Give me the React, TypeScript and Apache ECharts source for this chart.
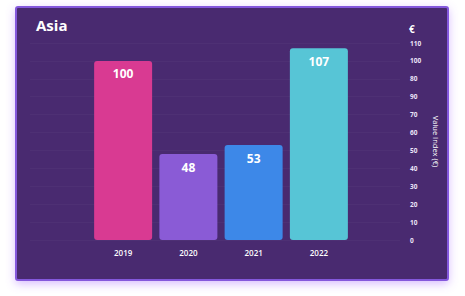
import React, { useEffect, useRef } from "react";
import * as echarts from "echarts";

const categories = ["2019", "2020", "2021", "2022"];
const values = [100, 48, 53, 107];
const barColors = ["#d93a92", "#8a5bd6", "#3d88e8", "#57c5d6"];
const yTickLabels: Record<number, string> = {
  0: "0", 10: "10", 20: "20", 30: "30", 40: "40", 50: "50", 60: "60",
  70: "70", 80: "90", 90: "80", 100: "100", 110: "110",
};
const title = "Asia";
const axisTitle = "Value Index (€)";
const unit = "€";

const FONT = "'Open Sans', Lato, sans-serif";

export default function App() {
  const ref = useRef<HTMLDivElement>(null);
  useEffect(() => {
    if (!ref.current) return;
    const chart = echarts.init(ref.current, null, { renderer: "svg" });
    chart.setOption({
      animation: false,
      backgroundColor: "#ffffff",
      graphic: [
        {
          type: "rect",
          z: -10,
          shape: { x: 16, y: 7, width: 432, height: 273, r: 2 },
          style: {
            fill: "#4a2a70",
            stroke: "#8458dc",
            lineWidth: 2,
            shadowBlur: 10,
            shadowOffsetY: 3,
            shadowColor: "rgba(170,110,255,0.45)",
          },
        },
        {
          type: "text",
          x: 36,
          y: 17,
          style: { text: title, fill: "#ffffff", fontSize: 15, fontWeight: 700, fontFamily: FONT },
        },
        {
          type: "text",
          x: 409,
          y: 24,
          style: { text: unit, fill: "#ffffff", fontSize: 10, fontWeight: 700, fontFamily: FONT },
        },
      ],
      grid: [
        { left: 90.5, right: 113.5, top: 43, bottom: 56 },
        { left: 30, right: 65, top: 43, bottom: 56 },
      ],
      xAxis: [
        {
          type: "category",
          gridIndex: 0,
          data: categories,
          axisLine: { show: false },
          axisTick: { show: false },
          axisLabel: { color: "#ffffff", fontSize: 8, fontWeight: 600, margin: 8, fontFamily: FONT },
        },
        { type: "value", gridIndex: 1, show: false, min: 0, max: 1 },
      ],
      yAxis: [
        { type: "value", gridIndex: 0, min: 0, max: 110, show: false },
        {
          type: "value",
          gridIndex: 1,
          position: "right",
          min: 0,
          max: 110,
          interval: 10,
          axisLine: { show: false },
          axisTick: { show: false },
          splitLine: { show: true, lineStyle: { color: "rgba(255,255,255,0.03)", width: 1 } },
          axisLabel: {
            color: "#ece4f8",
            fontSize: 6.5,
            fontWeight: 700,
            margin: 10,
            align: "left",
            fontFamily: FONT,
            formatter: (v: number) => yTickLabels[v] ?? String(v),
          },
          name: axisTitle,
          nameLocation: "middle",
          nameRotate: -90,
          nameGap: 19,
          nameTextStyle: { color: "#ffffff", fontSize: 7.5, fontFamily: FONT },
        },
      ],
      series: [
        {
          type: "bar",
          xAxisIndex: 0,
          yAxisIndex: 0,
          barWidth: 58,
          data: values.map((v, i) => ({
            value: v,
            itemStyle: { color: barColors[i], borderRadius: 3 },
          })),
          label: {
            show: true,
            position: "insideTop",
            distance: 7,
            color: "#ffffff",
            fontSize: 12,
            fontWeight: 700,
            fontFamily: FONT,
          },
        },
      ],
    });
    return () => chart.dispose();
  }, []);
  return (
    <div
      ref={ref}
      style={{ position: "fixed", left: 0, top: 0, width: 465, height: 296 }}
    />
  );
}
